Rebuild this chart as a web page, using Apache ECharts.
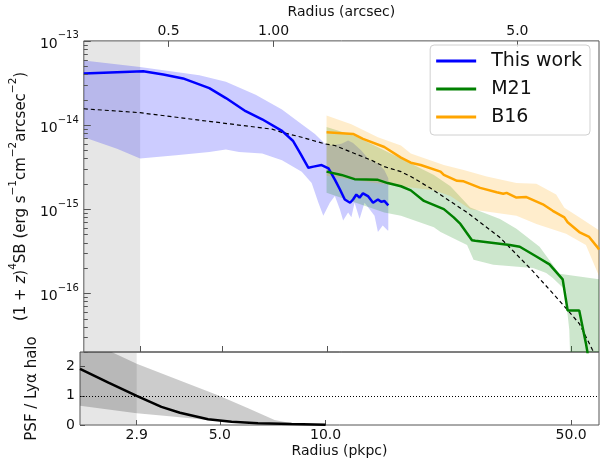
<!DOCTYPE html>
<html>
<head>
<meta charset="utf-8">
<script src="https://cdn.jsdelivr.net/npm/echarts@6/dist/echarts.min.js"></script>
<style>
  html, body { margin: 0; padding: 0; background: #fff; }
  #chart { width: 611px; height: 468px; }
</style>
</head>
<body>
<div id="chart"></div>
<script>
// ---- axis ranges and ticks ----
const X_MIN = 2, X_MAX = 60;               // pkpc
const SB_MIN = 2e-17, SB_MAX = 1e-13;      // (1+z)^4 SB
const RATIO_MIN = 0, RATIO_MAX = 2.5;      // PSF / Lya halo
const PKPC_PER_ARCSEC = 7.0;
const PSF_RADIUS = 2.9;                    // shaded inner region (pkpc)

const X_TICKS = [2.9, 5.0, 10.0, 50.0];
const X_TICK_LABELS = ['2.9', '5.0', '10.0', '50.0'];
const ARCSEC_TICKS = [0.5, 1.0, 5.0];
const ARCSEC_TICK_LABELS = ['0.5', '1.00', '5.0'];
const SB_TICKS = [1e-16, 1e-15, 1e-14, 1e-13];
const RATIO_TICKS = [0, 1, 2];

// ---- surface brightness profiles [radius pkpc, SB] ----
const thisWork = [
  [2.0, 4.1e-14], [2.96, 4.35e-14], [3.38, 3.98e-14], [3.85, 3.58e-14], [4.58, 2.74e-14],
  [5.11, 2.09e-14], [5.82, 1.46e-14], [6.49, 1.17e-14], [7.40, 8.5e-15], [7.95, 6.5e-15],
  [8.35, 4.6e-15], [8.81, 3.1e-15], [9.11, 3.2e-15], [9.61, 3.34e-15], [10.06, 3.05e-15],
  [10.5, 2.23e-15], [10.85, 1.71e-15], [11.2, 1.3e-15], [11.6, 1.19e-15], [11.83, 1.3e-15],
  [12.09, 1.49e-15], [12.35, 1.37e-15], [12.63, 1.54e-15], [13.05, 1.43e-15], [13.5, 1.19e-15],
  [13.94, 1.3e-15], [14.24, 1.22e-15], [14.54, 1.25e-15], [14.93, 1.11e-15]
];
const thisWorkUpper = [
  [2.0, 5.85e-14], [2.9, 4.89e-14], [4.29, 3.91e-14], [5.11, 3.27e-14], [6.22, 2.29e-14],
  [7.40, 1.53e-14], [8.43, 1.02e-14], [9.20, 7.82e-15], [9.82, 5.97e-15], [10.26, 5.71e-15],
  [10.96, 5.97e-15], [11.45, 6.53e-15], [11.83, 6.09e-15], [12.49, 4.99e-15], [13.19, 3.82e-15],
  [13.94, 3.49e-15], [14.54, 2.92e-15], [14.93, 2.33e-15]
];
const thisWorkLower = [
  [2.0, 7.15e-15], [2.49, 5.22e-15], [2.9, 3.99e-15], [3.68, 4.37e-15], [4.58, 4.78e-15],
  [5.11, 5.12e-15], [5.57, 4.78e-15], [6.49, 4.57e-15], [7.40, 3.82e-15], [8.43, 2.79e-15],
  [9.0, 2.04e-15], [9.41, 1.19e-15], [9.72, 8.35e-16], [10.15, 1.19e-15], [10.49, 1.43e-15],
  [10.84, 9.98e-16], [11.08, 7.31e-16], [11.45, 9.12e-16], [11.70, 7.98e-16], [11.95, 1.19e-15],
  [12.35, 7.63e-16], [12.76, 1.19e-15], [13.19, 9.98e-16], [13.63, 8.35e-16], [13.94, 5.34e-16],
  [14.39, 6.38e-16], [14.87, 5.58e-16], [14.93, 5.58e-16]
];

const m21 = [
  [9.93, 2.79e-15], [10.96, 2.55e-15], [11.95, 2.27e-15], [13.94, 2.23e-15], [14.87, 2.04e-15],
  [16.23, 1.87e-15], [17.32, 1.67e-15], [18.89, 1.25e-15], [21.54, 1.0e-15], [22.99, 7.98e-16],
  [24.03, 6.67e-16], [25.94, 4.27e-16], [26.5, 4.2e-16], [33.3, 3.74e-16], [35.57, 3.57e-16],
  [39.68, 2.73e-16], [43.27, 2.2e-16], [47.21, 1.46e-16], [48.78, 6.23e-17], [52.66, 6.23e-17],
  [55.02, 2.55e-17], [55.59, 2.0e-17], [56.2, 1.2e-17]
];
const m21Upper = [
  [9.93, 9.5e-15], [11.95, 7.47e-15], [16.23, 3.99e-15], [20.17, 2.55e-15], [22.5, 1.87e-15],
  [25.65, 1.045e-15], [31.21, 7.63e-16], [34.79, 5.83e-16], [40.53, 3.57e-16], [46.19, 1.7e-16],
  [60, 1.47e-16]
];
const m21Lower = [
  [9.93, 1.56e-15], [14.54, 9.12e-16], [16.23, 8.35e-16], [20.17, 6.1e-16], [21.08, 5.34e-16],
  [24.03, 4.08e-16], [25.11, 3.74e-16], [26.21, 2.5e-16], [29.86, 2.18e-16], [38.81, 2.0e-16],
  [42.35, 1.74e-16], [44.22, 1.52e-16], [48.27, 1.07e-16], [48.5, 6.81e-17], [49.32, 3.65e-17],
  [49.54, 2.0e-17], [60, 2.0e-17]
];

const b16 = [
  [9.93, 8.18e-15], [11.83, 7.82e-15], [12.63, 6.83e-15], [14.54, 5.47e-15], [16.23, 4.1e-15],
  [17.32, 3.56e-15], [18.49, 3.34e-15], [21.08, 2.79e-15], [21.54, 2.55e-15], [23.51, 2.17e-15],
  [24.56, 2.14e-15], [27.38, 1.79e-15], [30.54, 1.59e-15], [31.89, 1.52e-15], [32.6, 1.56e-15],
  [34.79, 1.37e-15], [37.16, 1.39e-15], [41.42, 1.14e-15], [44.22, 9.55e-16], [47.73, 7.98e-16],
  [48.78, 6.98e-16], [52.66, 5.34e-16], [56.22, 4.67e-16], [59.75, 3.41e-16], [60, 3.3e-16]
];
const b16Upper = [
  [9.93, 1.30e-14], [11.70, 1.02e-14], [13.94, 7.15e-15], [16.23, 5.71e-15], [17.32, 4.57e-15],
  [21.54, 3.34e-15], [24.56, 2.92e-15], [28.60, 2.44e-15], [34.79, 2.04e-15], [39.68, 2.0e-15],
  [45.22, 1.49e-15], [47.73, 1.04e-15], [52.66, 7.98e-16], [60, 5.6e-16]
];
const b16Lower = [
  [9.93, 2.5e-15], [12.49, 2.16e-15], [16.23, 1.87e-15], [20.17, 1.68e-15], [22.5, 1.43e-15],
  [25.65, 9.98e-16], [34.79, 8.35e-16], [39.68, 6.67e-16], [48.27, 5.10e-16], [55.02, 3.74e-16],
  [60, 1.6e-16]
];

// model halo profile (dashed)
const model = [
  [2.0, 1.56e-14], [2.9, 1.40e-14], [4.38, 1.13e-14], [6.93, 8.93e-15], [7.40, 8.18e-15],
  [8.43, 7.15e-15], [9.82, 5.97e-15], [10.49, 5.71e-15], [13.34, 3.82e-15], [14.54, 3.20e-15],
  [16.23, 2.79e-15], [17.32, 2.44e-15], [19.7, 1.78e-15], [25.11, 9.12e-16], [31.2, 4.6e-16],
  [38.81, 1.82e-16], [46.19, 8.15e-17], [52.66, 4.36e-17], [57.44, 2.13e-17], [60, 1.6e-17]
];

// ---- PSF / Lya halo ratio ----
const psfRatio = [
  [2.0, 1.92], [2.41, 1.45], [2.9, 1.0], [3.41, 0.62], [3.85, 0.42], [4.63, 0.2],
  [5.4, 0.11], [6.42, 0.06], [8.0, 0.03], [10.0, 0.01]
];
const psfRatioUpper = [
  [2.0, 2.9], [2.46, 2.5], [2.9, 2.1], [3.72, 1.59], [4.94, 1.02], [6.02, 0.57],
  [7.16, 0.17], [8.0, 0.06], [10.0, 0.01]
];
const psfRatioLower = [
  [2.0, 0.66], [2.9, 0.40], [3.72, 0.28], [4.94, 0.14], [6.42, 0.06], [8.0, 0.02], [10.0, 0.0]
];

// ---- styling ----
const FONT = 'DejaVu Sans';
const AXIS_COLOR = '#555';
const TEXT_COLOR = '#111';

// axis indices per panel: [xAxisIndex, yAxisIndex]
const PANEL_AXES = [[0, 0], [2, 1]];

function nearestLabel(v, ticks, labels) {
  let best = 0, bestD = Infinity;
  ticks.forEach((t, i) => {
    const d = Math.abs(Math.log(v) - Math.log(t));
    if (d < bestD) { bestD = d; best = i; }
  });
  return labels[best];
}

const supRich = {
  b: { fontFamily: FONT, fontSize: 14, color: TEXT_COLOR, lineHeight: 20, verticalAlign: 'bottom' },
  s: { fontFamily: FONT, fontSize: 10, color: TEXT_COLOR, lineHeight: 10, verticalAlign: 'top' }
};

const nameRich = {
  n: { fontFamily: FONT, fontSize: 15, color: TEXT_COLOR, lineHeight: 21, verticalAlign: 'bottom' },
  i: { fontFamily: FONT, fontSize: 15, fontStyle: 'italic', color: TEXT_COLOR, lineHeight: 21, verticalAlign: 'bottom' },
  s: { fontFamily: FONT, fontSize: 10.5, color: TEXT_COLOR, lineHeight: 11, verticalAlign: 'top' }
};

function band(upper, lower, color, panel) {
  return {
    type: 'custom',
    xAxisIndex: PANEL_AXES[panel][0],
    yAxisIndex: PANEL_AXES[panel][1],
    silent: true,
    clip: true,
    z: 1,
    data: [upper[0]],
    renderItem: function (params, api) {
      const pts = upper.map(p => api.coord(p))
        .concat(lower.slice().reverse().map(p => api.coord(p)));
      const cs = params.coordSys;
      return {
        type: 'polygon',
        shape: { points: pts },
        style: { fill: color, stroke: null },
        clipPath: { type: 'rect', shape: { x: cs.x, y: cs.y, width: cs.width, height: cs.height } }
      };
    }
  };
}

function line(name, data, color, width, panel, extra) {
  return Object.assign({
    name: name,
    type: 'line',
    xAxisIndex: PANEL_AXES[panel][0],
    yAxisIndex: PANEL_AXES[panel][1],
    data: data,
    symbol: 'none',
    showSymbol: false,
    clip: true,
    z: 3,
    lineStyle: { color: color, width: width },
    itemStyle: { color: color },
    emphasis: { disabled: true }
  }, extra || {});
}

const shadedSpan = {
  silent: true,
  itemStyle: { color: 'rgba(128,128,128,0.2)' },
  data: [[{ xAxis: X_MIN }, { xAxis: PSF_RADIUS }]]
};

// inward log ticks on the SB axis: decades (long) and 2..9 subdivisions (short)
const sbTickMarks = [];
for (let e = -17; e <= -13; e++) {
  for (let m = 1; m <= 9; m++) {
    const v = Number((m * Math.pow(10, e)).toPrecision(3));
    if (v >= SB_MIN * 0.999 && v <= SB_MAX * 1.001) sbTickMarks.push([X_MIN, v, m === 1 ? 7 : 4]);
  }
}

const sbTickSeries = {
  type: 'custom',
  xAxisIndex: 0, yAxisIndex: 0,
  silent: true, clip: false, z: 5,
  data: sbTickMarks,
  renderItem: function (params, api) {
    const p = api.coord([api.value(0), api.value(1)]);
    const y = Math.round(p[1]) + 0.5;
    return {
      type: 'line',
      shape: { x1: p[0], y1: y, x2: p[0] + api.value(2), y2: y },
      style: { stroke: AXIS_COLOR, lineWidth: 1 }
    };
  }
};

// legend swatch: a 40px line followed by a 10px gap before the text
const LEGEND_ICON = 'path://M0,0L40,0L40,3L0,3Z M50,0L50,3';

const chart = echarts.init(document.getElementById('chart'), null, { renderer: 'canvas' });

chart.setOption({
  animation: false,
  backgroundColor: '#fff',
  textStyle: { fontFamily: FONT },
  grid: [
    { left: 80, top: 35, width: 519, height: 317, show: true, borderColor: AXIS_COLOR, borderWidth: 1, backgroundColor: 'transparent' },
    { left: 80, top: 352, width: 519, height: 73, show: true, borderColor: AXIS_COLOR, borderWidth: 1, backgroundColor: 'transparent' }
  ],
  xAxis: [
    {
      gridIndex: 0, type: 'log', logBase: 10, min: X_MIN, max: X_MAX, position: 'bottom',
      axisLine: { show: false }, splitLine: { show: false },
      axisTick: { inside: true, length: 6, customValues: X_TICKS, lineStyle: { color: AXIS_COLOR } },
      axisLabel: { show: false }
    },
    {
      gridIndex: 0, type: 'log', logBase: 10,
      min: X_MIN / PKPC_PER_ARCSEC, max: X_MAX / PKPC_PER_ARCSEC, position: 'top',
      axisLine: { show: false }, splitLine: { show: false },
      axisTick: { inside: true, length: 6, customValues: ARCSEC_TICKS, lineStyle: { color: AXIS_COLOR } },
      axisLabel: {
        customValues: ARCSEC_TICKS, margin: 3, color: TEXT_COLOR, fontSize: 14, fontFamily: FONT,
        formatter: v => nearestLabel(v, ARCSEC_TICKS, ARCSEC_TICK_LABELS)
      },
      name: 'Radius (arcsec)', nameLocation: 'middle', nameGap: 18,
      nameTextStyle: { color: TEXT_COLOR, fontSize: 14, fontFamily: FONT }
    },
    {
      gridIndex: 1, type: 'log', logBase: 10, min: X_MIN, max: X_MAX, position: 'bottom',
      axisLine: { show: false }, splitLine: { show: false },
      axisTick: { inside: true, length: 5, customValues: X_TICKS, lineStyle: { color: AXIS_COLOR } },
      axisLabel: {
        customValues: X_TICKS, margin: 3, color: TEXT_COLOR, fontSize: 14, fontFamily: FONT,
        formatter: v => nearestLabel(v, X_TICKS, X_TICK_LABELS)
      },
      name: 'Radius (pkpc)', nameLocation: 'middle', nameGap: 19,
      nameTextStyle: { color: TEXT_COLOR, fontSize: 14, fontFamily: FONT }
    }
  ],
  yAxis: [
    {
      gridIndex: 0, type: 'log', logBase: 10, min: SB_MIN, max: SB_MAX, position: 'left',
      axisLine: { show: false }, splitLine: { show: false },
      axisTick: { show: false },
      axisLabel: {
        customValues: SB_TICKS, margin: 5,
        formatter: v => {
          const e = Math.round(Math.log10(v));
          return '{b|10}{s|' + (e < 0 ? '\u2212' : '') + Math.abs(e) + '}';
        },
        rich: supRich
      },
      name: '{n|(1 + }{i|z}{n|)}{s|4}{n|SB (erg s}{s|\u22121}{n|cm}{s|\u22122}{n|arcsec}{s|\u22122}{n|)}',
      nameLocation: 'middle', nameGap: 40, nameRotate: 90,
      nameTextStyle: { rich: nameRich }
    },
    {
      gridIndex: 1, type: 'value', min: RATIO_MIN, max: RATIO_MAX, position: 'left',
      axisLine: { show: false }, splitLine: { show: false },
      axisTick: { inside: true, length: 5, customValues: RATIO_TICKS, lineStyle: { color: AXIS_COLOR } },
      axisLabel: { customValues: RATIO_TICKS, margin: 5, color: TEXT_COLOR, fontSize: 14, fontFamily: FONT },
      name: 'PSF / Ly\u03b1 halo', nameLocation: 'middle', nameGap: 40, nameRotate: 90,
      nameTextStyle: { color: TEXT_COLOR, fontSize: 15, fontFamily: FONT }
    }
  ],
  legend: {
    data: ['This work', 'M21', 'B16'],
    orient: 'vertical',
    right: 21, top: 45,
    padding: [5, 8, 7, 6],
    itemGap: 6,
    itemWidth: 50, itemHeight: 3,
    icon: LEGEND_ICON,
    backgroundColor: 'rgba(255,255,255,0.8)',
    borderColor: '#d0d0d0', borderWidth: 1, borderRadius: 4,
    textStyle: { fontFamily: FONT, fontSize: 19, color: TEXT_COLOR, lineHeight: 22 },
    selectedMode: false
  },
  series: [
    band(thisWorkUpper, thisWorkLower, 'rgba(0,0,255,0.2)', 0),
    band(m21Upper, m21Lower, 'rgba(0,128,0,0.2)', 0),
    band(b16Upper, b16Lower, 'rgba(255,165,0,0.2)', 0),
    line('model', model, '#000', 1.2, 0, {
      lineStyle: { color: '#000', width: 1.2, type: [4, 3] },
      markArea: shadedSpan
    }),
    line('This work', thisWork, '#0000ff', 2.5, 0),
    line('M21', m21, '#008000', 2.5, 0),
    line('B16', b16, '#ffa500', 2.5, 0),
    sbTickSeries,
    band(psfRatioUpper, psfRatioLower, 'rgba(0,0,0,0.2)', 1),
    line('ratio', psfRatio, '#000', 2.5, 1, {
      markArea: shadedSpan,
      markLine: {
        silent: true, symbol: 'none', label: { show: false },
        lineStyle: { color: '#000', width: 1, type: [1, 2] },
        data: [{ yAxis: 1 }]
      }
    })
  ]
});
</script>
</body>
</html>
